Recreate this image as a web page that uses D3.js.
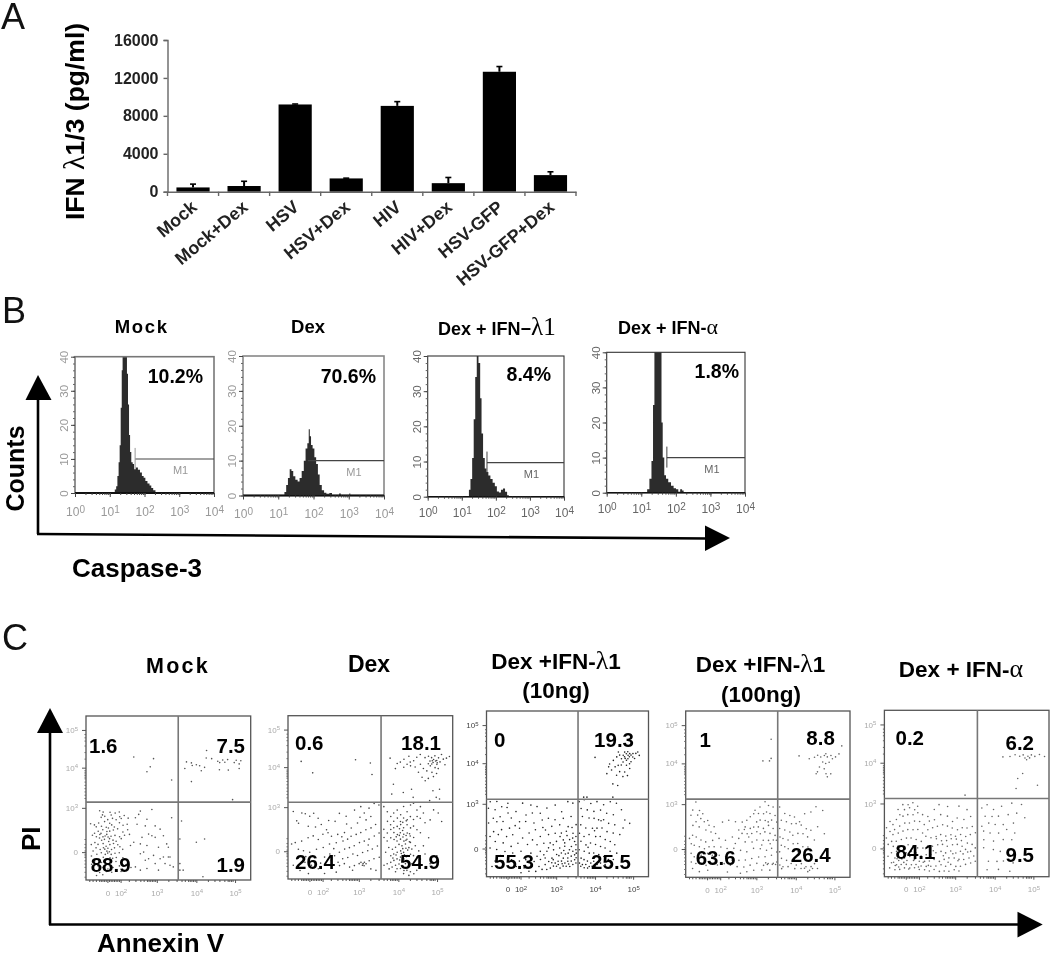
<!DOCTYPE html>
<html><head><meta charset="utf-8">
<script src="https://cdn.jsdelivr.net/npm/d3@7"></script>
<style>html,body{margin:0;padding:0;background:#fff}svg{display:block;filter:blur(0.4px)}text{font-family:"Liberation Sans",Arial,sans-serif}</style>
</head><body><div id="c"></div>
<script>
// ---------- Panel A data
const categories=["Mock","Mock+Dex","HSV","HSV+Dex","HIV","HIV+Dex","HSV-GFP","HSV-GFP+Dex"];
const meanValues=[450,600,9200,1400,9050,900,12650,1750];
const errorTops=[800,1100,9250,1430,9500,1500,13200,2100];
const barTicks=[0,4000,8000,12000,16000];
// ---------- Panel B data: [log10 intensity, counts]
const histTitles=["Mock","Dex","Dex + IFN\u2212","Dex + IFN-"];
const histPercent=["10.2%","70.6%","8.4%","1.8%"];
const histMock=[[1.12,0],[1.17,1],[1.2,2],[1.24,5],[1.27,9],[1.3,14],[1.33,25],[1.36,36],[1.38,41],[1.48,41],[1.51,35],[1.54,26],[1.57,17],[1.6,12],[1.64,9],[1.68,8.5],[1.72,7],[1.78,7.5],[1.84,6.8],[1.9,6],[1.95,5],[2,4.5],[2.05,3.5],[2.12,2.8],[2.17,2.2],[2.22,1.5],[2.28,.8],[2.35,.2],[2.38,0]];
const histDex=[[1.15,0],[1.2,1],[1.25,3],[1.3,5],[1.35,7.5],[1.4,7],[1.45,5.5],[1.52,4.5],[1.58,4],[1.63,5],[1.7,7],[1.75,10],[1.8,13.5],[1.85,15],[1.88,19],[1.91,17],[1.95,14.5],[2,13.5],[2.05,11],[2.1,9],[2.15,6],[2.2,3],[2.27,1.5],[2.33,.8],[2.4,.5],[2.5,.7],[2.55,.1],[2.7,.1],[2.75,.6],[2.8,.1],[3,.1],[3.03,.6],[3.06,.1],[3.3,0]];
const histLambda=[[1.19,0],[1.23,2],[1.28,5],[1.33,11],[1.37,22],[1.42,34],[1.46,40],[1.52,38],[1.56,28],[1.6,18],[1.65,11],[1.7,8],[1.75,7],[1.81,6],[1.87,5],[1.94,4],[2,3],[2.06,1.5],[2.12,1.2],[2.18,2],[2.24,2.3],[2.3,1.4],[2.36,.4],[2.4,0]];
const histAlpha=[[1.14,0],[1.2,1],[1.27,4],[1.32,9],[1.36,25],[1.4,41],[1.57,41],[1.6,20],[1.64,10],[1.69,5],[1.74,4],[1.82,3],[1.9,2],[1.97,1.3],[2.04,1],[2.1,.3],[2.15,1],[2.21,.6],[2.24,0]];
const histSeries=[histMock,histDex,histLambda,histAlpha];
const m1Gates=[1.73,1.84,1.74,1.74];
const m1Levels=[10,10,9.7,10];
const histDecades=[0,1,2,3,4];
const histCounts=[0,10,20,30,40];
// ---------- Panel C data: [Annexin V, PI] in percent of display range
const scatterTitles=[["Mock"],["Dex"],["Dex +IFN-","(10ng)"],["Dex +IFN-","(100ng)"],["Dex + IFN-"]];
const quadrantValues=[["1.6","7.5","88.9","1.9"],["0.6","18.1","26.4","54.9"],["0","19.3","55.3","25.5"],["1","8.8","63.6","26.4"],["0.2","6.2","84.1","9.5"]];
const scatterMock=[[29,75],[41,74],[39,69],[37,66],[52,61],[73.2,79],[61,72],[64,71.4],[60,68],[64.5,69.8],[67,70.3],[69,69.7],[72,68.7],[70,66.6],[73,74.4],[76.3,74],[80,72.4],[81.2,71.6],[83,73.2],[86,73.4],[84.3,71.8],[90,71.6],[91.2,73],[94,72.7],[93,70.8],[81,67.2],[86.4,67],[93,68],[64,60],[89,49],[58,36],[57,25],[67,23],[72,25],[57,10],[57,6],[59,6],[71,2],
[8.3,42.2],[10.4,41.4],[10,39.7],[9.2,38.2],[11.4,38.8],[14.6,41.3],[15.3,39.6],[17.7,40.8],[20.2,41.5],[16.1,37.6],[13.2,36.8],[14.4,34.6],[18.3,36.7],[20.5,38.6],[21.4,37.5],[23.2,39.3],[25.6,37.7],[11.3,35.6],[7.7,34.8],[5.1,33.6],[2.8,34.3],[6.2,32.4],[9.4,32.8],[12.3,32.2],[15.6,33.6],[17.2,32.3],[20.3,34.9],[22.5,33.4],[10.2,30.6],[12.7,29.6],[7.4,29.7],[5.2,28.5],[9.1,28.4],[14.4,29.8],[16.6,30.5],[19.2,31.2],[22.4,29.3],[25.3,30.6],[11.6,26.8],[13.4,26.2],[8.2,25.6],[6.3,26.4],[3.9,27.3],[15.2,26.7],[17.6,27.2],[20.4,26.4],[23.4,27.3],[26.4,27.8],[9.5,24.2],[11.2,24.8],[13.8,23.5],[16.4,24.3],[18.3,23.6],[21.4,25.2],[3.2,21.6],[5.4,22.8],[7.3,21.7],[10.4,22.2],[12.2,20.6],[14.5,21.6],[16.7,22.3],[19.3,21.5],[11.4,18.8],[13.3,19.4],[6.1,19.6],[8.6,18.6],[4.3,17.7],[15.5,18.6],[17.3,19.6],[20.6,20.3],[22.3,18.7],[9.3,16.6],[11.7,15.6],[13.2,16.4],[6.6,15.7],[15.3,15.6],[17.6,16.3],[3.3,14.6],[20.2,16.6],[10.5,13.8],[12.3,12.7],[14.6,13.6],[7.3,12.6],[16.2,13.2],[18.4,13.7],[5.3,11.6],[22.4,13.6],[9.4,10.7],[11.2,11.4],[13.6,9.7],[15.3,10.6],[18.2,11.3],[3.4,9.6],[7.2,8.7],[10.3,7.6],[13.3,6.7],[16.4,7.6],[20.3,8.6],[24.2,9.3],[5.4,5.7],[8.3,4.6],[12.4,5.2],[15.6,4.7],[21.3,5.2],[6.4,2.7],[10.2,3.2],[27.3,7.6],[12.6,27.8],[10.3,26.3],[14.3,25.2],[12.7,17.6],[14.2,17.2],[10.6,19.7],[8.4,27.7],[13.6,31.7],
[33,42],[40,43],[30,38],[32,40],[37,37],[25,34],[31,34],[36,33],[42,33],[52,38],[45,31],[38,28],[47,27],[34,26],[40,27],[42,26],[29,23],[33,22],[27,21],[37,21],[44,20],[49,22],[50,20],[35,17],[33,16],[41,15],[38,13],[45,13],[47,14],[50,14],[51,14],[36,12],[42,10],[48,10],[51,9],[53,8],[30,8],[33,6],[37,7],[44,6]];
const scatterDex=[[8,72],[15,65],[41,73],[50,71],[51,64],
[85.3,75.2],[87.2,74.3],[88.4,73.2],[89.2,75.4],[90.3,72.6],[91.4,74.2],[86.2,72.2],[88.1,71.3],[90.4,70.2],[92.3,71.7],[93.2,76.2],[94.3,73.4],[86.4,69.3],[89.3,68.2],[91.2,67.6],[85.2,70.6],[83.2,74.3],[80.3,76.2],[78.2,74.6],[76.3,72.4],[73.4,75.2],[74.2,71.6],[72.3,70.3],[70.4,73.3],[68.2,71.6],[66.3,70.7],[65.2,67.6],[70.3,68.4],[74.4,69.3],[77.2,68.6],[80.4,70.3],[82.2,67.7],[84.3,66.2],[87.4,65.3],[90.2,64.6],[88.3,62.7],[85.2,61.6],[83.3,60.2],[81.4,62.3],[79.2,65.4],[98,75],[95.3,70],[96.2,74],[62,74],[64,58],[63,52],[70,53],[75,55],[76,50],[88,54],[92,55],[90,50],[92,49],[86,48],[87.3,70.4],[89.6,72.3],[90.6,71.2],[87.6,72.4],
[3.2,41.3],[8.4,40.4],[5.3,35.6],[10.5,40],[13.2,38.4],[15.6,40.3],[18.3,37.2],[6.4,34.1],[12.3,32.3],[20.2,33.4],[23.4,30.2],[28.6,35.3],[31.2,40.2],[35.3,38.4],[40.4,42.2],[44.2,44.3],[46.3,40.4],[49.2,43.4],[52.3,46.2],[55.2,45.3],[47.4,36.2],[50.3,38.3],[42.2,34.3],[38.4,31.2],[34.3,28.4],[30.2,27.3],[26.4,26.2],[24.3,28.3],[21.2,27.4],[18.4,24.2],[15.3,26.4],[12.2,25.3],[8.3,23.2],[4.4,22.3],[2.2,21.4],[6.3,18.2],[9.4,17.3],[13.2,16.4],[17.3,18.2],[21.4,19.3],[25.2,21.4],[29.3,22.2],[33.4,23.3],[36.2,24.4],[38.3,26.2],[41.4,27.3],[44.2,28.4],[47.3,30.2],[50.4,31.3],[53.2,33.4],[55.3,28.2],[52.4,26.3],[49.2,24.4],[46.3,23.2],[43.4,22.3],[40.2,20.4],[37.3,19.2],[34.4,18.3],[31.2,16.4],[28.3,14.2],[25.4,15.3],[22.2,13.4],[26.3,11.2],[30.4,10.3],[33.2,12.4],[36.3,13.2],[39.4,15.3],[42.2,14.4],[45.3,16.2],[48.4,17.3],[51.2,18.4],[54.3,20.2],[55.4,13.3],[52.2,12.4],[49.3,11.2],[46.4,10.3],[43.2,9.4],[40.3,8.2],[37.4,7.3],[34.2,9.4],[31.3,8.2],[47.4,9.3],[45.2,8.4],[44.3,10.2],[46.2,8.1],[45.6,9.4],[50.3,6.2],[53.4,5.3],[39.2,5.4],[29.3,4.2],[18.4,6.3],[14.2,8.4],[10.3,10.2],[5.4,12.3],[3.2,8.4],[7.3,5.2],[12.4,3.3],[22.2,3.4],[16.7,31.8],[27.8,18.6],[35.6,33.7],[43.7,37.8],[24.7,35.8],[10.8,13.7],[19.8,9.7],[32.7,25.8],[48.7,20.8],
[58.2,44.3],[60.3,41.2],[62.4,38.3],[64.2,40.4],[66.3,42.2],[68.4,39.3],[70.2,44.4],[72.3,41.2],[74.4,45.3],[76.2,46.4],[78.3,42.2],[80.4,44.3],[82.2,40.4],[80.3,37.2],[78.4,38.3],[76.2,36.4],[74.3,38.2],[72.4,36.3],[70.2,37.4],[68.3,35.2],[66.4,37.3],[64.2,35.4],[62.3,33.2],[60.4,35.3],[58.2,30.4],[60.3,28.2],[62.4,30.3],[64.2,31.4],[66.3,32.2],[68.4,33.3],[70.2,31.4],[72.3,33.2],[74.4,31.3],[76.2,32.4],[78.3,30.2],[80.4,28.3],[83.2,34.4],[86.3,36.2],[88.4,42.3],[91.2,40.4],[93.3,35.2],[85.4,25.3],[64.3,28.4],[66.4,27.2],[68.2,28.3],[70.3,27.4],[72.4,28.2],[74.2,26.3],[76.3,25.4],[62.4,25.2],[60.2,23.3],[58.3,25.4],[64.4,24.2],[66.2,23.3],[68.3,24.4],[70.4,23.2],[72.2,24.3],[74.3,22.4],[67.4,21.2],[69.2,20.3],[71.3,21.4],[73.4,19.2],[75.2,18.3],[77.3,20.4],[79.4,17.2],[82.2,20.3],[65.3,19.4],[63.4,18.2],[61.2,19.3],[59.3,16.4],[62.4,14.2],[64.2,15.3],[66.3,16.4],[68.4,17.2],[70.2,16.3],[72.3,14.4],[74.4,15.2],[76.2,14.3],[78.3,13.4],[80.4,12.2],[83.2,15.3],[68.3,13.4],[70.4,12.2],[66.2,12.3],[64.3,11.4],[62.4,10.2],[60.2,9.3],[58.3,8.4],[61.4,6.2],[63.2,7.3],[65.3,8.4],[67.4,9.2],[69.2,8.3],[71.3,9.4],[73.4,10.2],[75.2,9.3],[77.3,8.4],[79.4,9.2],[66.2,6.3],[68.3,6.4],[70.4,5.2],[72.2,5.3],[74.3,4.4],[76.4,3.2],[70.2,3.3],[65.3,4.4],[73.4,2.2],[78.2,5.3],[86.3,9.4],[90.4,14.2],[69.7,34.7],[71.8,35.6],[67.7,30.8],[69.6,29.7],[71.7,26.6],[73.8,27.7],[67.6,26.7],[65.7,25.8],[69.8,25.7],[71.6,23.7],[73.7,22.8],[69.7,18.6],[71.6,18.8],[72.7,17.7],[68.8,15.6],[70.7,14.8],[71.8,13.7],[65.6,14.7],[63.7,12.8],[67.8,11.6]];
const scatterL10=[[67,72],[76,68],[78.3,70.2],[80.4,72.3],[82.2,73.4],[83.3,71.2],[84.4,73.3],[85.2,72.4],[86.3,74.2],[87.4,73.3],[88.2,72.4],[87.3,71.2],[86.4,70.3],[85.6,71.4],[84.3,69.2],[88.4,74.3],[89.2,73.4],[90.3,72.2],[91.4,71.3],[89.2,69.4],[88.3,68.2],[86.4,67.3],[83.2,67.4],[81.3,67.2],[79.4,66.3],[77.2,64.4],[74.3,62.2],[75.4,66.3],[82.2,63.4],[85.3,63.2],[88.4,65.3],[84.2,60.4],[80.3,61.2],[81,55],[87,61],[78,56],[90.4,74.3],[92.2,74.4],[94.3,73.2],[93.4,75.3],[87.2,75.4],[85.3,75.2],[81.4,75.3],[62,48],[78,48],[60,48],
[2.3,45.2],[6.4,45.4],[1.2,41.3],[5.3,40.4],[9.4,42.2],[13.2,44.3],[22.3,44.4],[27.4,43.2],[31.2,42.3],[37.3,41.4],[42.4,43.2],[50.2,45.3],[53.3,44.4],[46.4,39.2],[33.2,38.3],[28.3,38.4],[24.4,37.2],[18.2,39.3],[13.3,38.4],[8.4,36.2],[4.2,35.3],[1.3,32.4],[6.4,33.2],[10.2,33.3],[15.3,35.4],[20.4,33.2],[24.2,33.3],[29.3,32.4],[34.4,34.2],[38.2,35.3],[42.3,34.4],[47.4,35.2],[52.2,36.3],[55.3,31.4],[50.4,30.2],[45.2,31.3],[40.3,30.4],[36.4,28.2],[30.2,28.3],[26.3,26.4],[20.4,29.2],[14.2,29.3],[9.3,28.4],[4.4,27.2],[2.2,24.3],[7.3,25.4],[12.4,24.2],[16.2,25.3],[22.3,23.4],[28.4,22.2],[33.2,24.3],[38.3,25.4],[42.4,26.2],[46.2,26.3],[49.3,27.4],[53.4,26.2],[55.2,24.3],[51.3,22.4],[47.4,22.2],[43.2,21.3],[39.3,20.4],[35.4,20.2],[31.2,19.3],[25.3,19.4],[19.4,20.2],[15.2,18.3],[10.3,20.4],[5.4,21.2],[2.2,17.3],[6.3,16.4],[11.4,15.2],[16.2,14.3],[21.3,15.4],[27.4,14.2],[33.2,15.3],[37.3,15.4],[41.4,16.2],[45.2,17.3],[48.3,18.4],[52.4,18.2],[55.2,19.3],[53.3,15.4],[50.4,14.2],[46.2,14.3],[43.3,13.4],[40.4,11.2],[36.2,11.3],[33.3,10.4],[29.4,9.2],[24.2,10.3],[20.3,9.4],[15.4,10.2],[10.2,9.3],[5.3,9.4],[3.4,6.2],[8.2,5.3],[13.3,6.4],[18.4,6.2],[23.2,5.3],[28.3,6.4],[32.4,6.2],[36.2,7.3],[40.3,8.4],[42.4,8.2],[44.2,9.3],[46.3,9.4],[48.4,8.2],[50.2,9.3],[52.3,9.4],[54.4,10.2],[55.2,8.3],[53.3,7.4],[51.4,6.2],[49.2,6.3],[47.3,6.4],[45.4,5.2],[43.2,6.3],[41.3,6.4],[39.4,5.2],[37.2,4.3],[34.3,4.4],[30.4,3.2],[26.2,3.3],[21.3,2.4],[38.4,9.2],[41.2,10.3],[44.3,7.4],[47.4,11.2],[50.2,11.3],[52.3,12.4],[54.4,13.2],[51.2,16.3],[48.3,20.4],[45.4,24.2],[41.2,19.3],[38.3,17.4],[35.4,13.2],[31.2,12.3],[27.3,11.4],[55.4,14.2],[55.2,16.3],[55.3,11.4],[54.4,21.2],[53.2,23.3],[48.7,13.7],[50.7,7.7],[46.7,7.8],[47.7,15.8],[44.7,12.7],[49.7,24.8],[52.8,29.7],[8.7,12.7],[17.7,30.8],[12.7,41.8],[34.8,29.7],
[57.2,45.3],[60.3,46.4],[64.4,44.2],[68.2,45.3],[72.3,43.4],[76.4,45.2],[80.2,44.3],[83.3,40.4],[58.4,41.2],[62.2,40.3],[66.3,39.4],[70.4,40.2],[74.2,38.3],[78.3,37.4],[85.4,34.2],[59.2,36.3],[63.3,35.4],[66.4,35.2],[69.2,34.3],[72.3,34.4],[75.4,32.2],[79.2,31.3],[84.3,29.4],[88.4,32.2],[58.2,31.3],[61.3,29.4],[65.4,29.2],[68.2,29.3],[71.3,29.4],[74.4,27.2],[78.2,26.3],[82.3,25.4],[57.4,26.2],[60.2,24.3],[63.3,25.4],[67.4,24.2],[70.2,24.3],[73.3,22.4],[76.4,21.2],[79.2,19.3],[58.3,21.4],[61.4,19.2],[64.2,20.3],[67.3,19.4],[70.4,18.2],[73.2,17.3],[76.3,15.4],[80.4,14.2],[57.2,16.3],[60.3,15.4],[63.4,14.2],[66.2,14.3],[69.3,13.4],[72.4,12.2],[75.2,10.3],[78.3,10.4],[58.4,11.2],[60.2,10.3],[62.3,9.4],[64.4,8.2],[66.2,9.3],[68.3,7.4],[70.4,8.2],[73.2,7.3],[76.3,6.4],[57.4,8.2],[59.2,7.3],[61.3,7.4],[63.4,6.2],[65.2,6.3],[67.3,6.4],[69.4,5.2],[58.2,6.3],[60.3,5.4],[62.4,5.2],[66.7,27.7],[70.7,33.8],[62.7,17.7]];
const scatterL100=[[52,83],[47,70],[51,70],[52,71.5],
[69,73],[75.2,71.3],[78.4,72.2],[80.3,73.4],[82.2,72.3],[84.4,73.2],[85.3,74.3],[86.2,72.4],[88.4,73.2],[89.3,71.3],[91.2,72.4],[93.3,74.2],[83.4,69.3],[85.2,68.4],[87.3,69.2],[79.4,62.3],[80.2,63.4],[84.3,65.2],[85.4,62.3],[86.2,60.4],[88.3,62.2],[81.4,66.3],[95,79],
[6.2,45.3],[4.3,40.4],[8.4,40.2],[3.2,37.3],[7.3,37.4],[10.4,38.2],[9.2,35.3],[6.3,33.4],[4.4,31.2],[8.2,30.3],[11.3,33.4],[13.4,34.2],[14.2,31.3],[12.3,28.4],[15.4,27.2],[18.2,26.3],[17.3,30.4],[22.4,33.2],[26.2,34.3],[30.3,33.4],[34.4,33.2],[37.2,34.3],[39.3,36.4],[41.4,38.2],[45.2,42.3],[48.3,45.4],[50.4,43.2],[53.2,42.3],[44.3,38.4],[47.4,38.2],[49.2,39.3],[51.3,38.4],[54.4,37.2],[43.2,33.3],[45.3,34.4],[48.4,34.2],[50.2,33.3],[52.3,34.4],[55.4,33.2],[36.2,30.3],[39.3,29.4],[41.4,30.2],[44.2,30.3],[47.3,29.4],[50.4,31.2],[53.2,29.3],[34.3,26.4],[37.4,26.2],[40.2,26.3],[43.3,27.4],[45.4,26.2],[48.2,27.3],[51.3,26.4],[54.4,25.2],[55.2,22.3],[53.3,22.4],[50.4,22.2],[47.2,22.3],[43.3,22.4],[40.4,21.2],[36.2,21.3],[32.3,23.4],[28.4,24.2],[24.2,22.3],[20.3,23.4],[16.4,22.2],[12.2,21.3],[9.3,22.4],[6.4,24.2],[4.2,25.3],[2.3,23.4],[3.4,20.2],[5.2,19.3],[8.3,18.4],[11.4,17.2],[14.2,18.3],[17.3,18.4],[21.4,18.2],[25.2,17.3],[29.3,17.4],[33.4,16.2],[37.2,15.3],[41.3,17.4],[45.4,17.2],[49.2,16.3],[52.3,17.4],[55.4,15.2],[52.2,13.3],[48.3,12.4],[44.4,12.2],[40.2,11.3],[36.3,10.4],[32.4,10.2],[28.2,10.3],[24.3,12.4],[20.4,13.2],[16.2,13.3],[13.3,14.4],[9.4,13.2],[5.2,12.3],[3.3,14.4],[3.4,9.2],[6.2,8.3],[9.3,8.4],[12.4,7.2],[15.2,8.3],[19.3,7.4],[23.4,8.2],[27.2,7.3],[31.3,6.4],[35.4,6.2],[39.2,7.3],[43.3,8.4],[47.4,7.2],[50.2,8.3],[53.3,8.4],[55.4,9.2],[51.2,4.3],[46.3,4.4],[41.4,4.2],[37.2,3.3],[33.3,2.4],[25.4,3.2],[4.2,5.3],[8.3,3.4],[13.4,4.2],[42.2,40.3],[32.3,28.4],[38.4,24.2],[30.2,20.3],[46.3,19.4],[51.4,20.2],[48.7,8.7],[49.7,7.7],[52.7,7.8],[54.7,7.7],[35.7,28.7],
[57.2,42.3],[60.3,38.4],[63.4,37.2],[66.2,36.3],[69.3,33.4],[72.4,38.2],[76.2,39.3],[79.3,42.4],[83.4,40.2],[58.2,34.3],[61.3,33.4],[64.4,32.2],[67.2,32.3],[70.3,31.4],[73.4,29.2],[76.2,28.3],[80.3,30.4],[84.4,26.2],[57.2,29.3],[60.3,28.4],[63.4,27.2],[65.2,25.3],[68.3,26.4],[71.4,26.2],[74.2,24.3],[78.3,22.4],[57.4,24.2],[59.2,23.3],[62.3,22.4],[65.4,20.2],[68.2,20.3],[71.3,18.4],[74.4,18.2],[58.2,19.3],[60.3,18.4],[62.4,17.2],[65.2,15.3],[68.3,15.4],[72.4,13.2],[57.2,15.3],[58.3,11.4],[61.4,10.2],[64.2,8.3],[67.3,7.4],[70.4,8.2],[73.2,6.3],[76.3,6.4],[78.4,8.2],[80.2,5.3],[57.3,7.4],[58.4,5.2],[59.2,6.3],[62.3,6.4],[75.4,4.2],[70.2,5.3],[72.3,5.4],[66.4,5.2],[77.2,5.3],[74.3,3.4]];
const scatterA=[[49,49],[72,72],[76.3,72.2],[79.4,73.3],[82.2,72.4],[84.3,73.2],[85.4,71.3],[87.2,72.4],[89.3,73.2],[91.4,72.3],[94.2,73.4],[97.3,72.2],[86.4,70.3],[88.2,71.4],[84,62],[80,53],[93,55],[81,59],
[8.3,40.4],[11.2,43.3],[14.4,43.2],[17.3,44.4],[20.2,42.3],[18.4,40.2],[15.3,41.4],[12.2,40.3],[9.4,37.2],[7.3,34.4],[5.2,31.3],[3.4,33.2],[11.3,36.4],[14.2,37.3],[17.4,37.2],[20.3,38.4],[23.2,37.3],[26.4,36.2],[30.3,40.4],[33.2,43.3],[38.4,42.2],[45.3,42.4],[50.2,40.3],[52.4,36.2],[48.3,34.4],[44.2,35.3],[41.4,33.2],[38.3,36.4],[34.2,37.3],[30.4,34.2],[27.3,33.4],[24.2,31.3],[21.4,33.2],[18.3,33.4],[15.2,32.3],[12.4,32.2],[9.3,30.4],[6.2,28.3],[3.4,27.2],[1.3,29.4],[5.2,25.3],[8.4,26.2],[11.3,27.4],[14.2,28.3],[17.4,28.2],[20.3,28.4],[23.2,26.3],[26.4,28.2],[29.3,29.4],[32.2,30.3],[35.4,31.2],[38.3,30.4],[41.2,29.3],[44.4,28.2],[47.3,29.4],[50.2,29.3],[53.4,30.2],[55.3,26.4],[52.2,25.3],[49.4,24.2],[46.3,25.4],[43.2,24.3],[40.4,25.2],[37.3,24.4],[34.2,25.3],[31.4,24.2],[28.3,23.4],[25.2,24.3],[22.4,21.2],[19.3,22.4],[16.2,23.3],[13.4,23.2],[10.3,22.4],[7.2,21.3],[4.4,21.2],[2.3,19.4],[1.2,23.3],[5.4,18.2],[8.3,18.4],[11.2,18.3],[14.4,19.2],[17.3,18.4],[20.2,17.3],[23.4,17.2],[26.3,18.4],[29.2,18.3],[32.4,19.2],[35.3,19.4],[38.2,18.3],[41.4,19.2],[44.3,19.4],[47.2,18.3],[50.4,20.2],[53.3,19.4],[55.2,17.3],[52.4,15.2],[49.3,16.4],[46.2,15.3],[43.4,14.2],[40.3,15.4],[37.2,14.3],[34.4,15.2],[31.3,14.4],[28.2,13.3],[25.4,13.2],[22.3,12.4],[19.2,14.3],[16.4,15.2],[13.3,14.4],[10.2,15.3],[7.4,15.2],[4.3,14.4],[2.2,12.3],[6.4,11.2],[9.3,11.4],[12.2,11.3],[15.4,12.2],[18.3,10.4],[21.2,9.3],[24.4,9.2],[27.3,9.4],[30.2,10.3],[33.4,9.2],[36.3,10.4],[39.2,11.3],[42.4,11.2],[45.3,10.4],[48.2,10.3],[51.4,11.2],[54.3,12.4],[55.2,9.3],[52.4,8.2],[49.3,7.4],[46.2,6.3],[43.4,6.2],[40.3,7.4],[37.2,6.3],[34.4,7.2],[31.3,6.4],[28.2,6.3],[25.4,6.2],[22.3,6.4],[19.2,7.3],[16.4,7.2],[13.3,7.4],[10.2,7.3],[7.4,7.2],[4.3,8.4],[3.2,5.3],[6.4,4.2],[9.3,4.4],[12.2,5.3],[15.4,5.2],[18.3,5.4],[21.2,4.3],[24.4,4.2],[27.3,3.4],[30.2,4.3],[33.4,3.2],[36.3,3.4],[39.2,3.3],[42.4,4.2],[45.3,3.4],[8.7,9.7],[10.6,10.7],[7.7,10.8],[6.6,6.7],[8.7,5.8],[11.8,8.6],[13.7,9.7],[14.8,4.6],[17.7,9.8],[5.6,8.7],[20.7,5.8],[23.6,8.7],[26.7,6.8],[35.8,12.6],[38.7,8.7],[41.6,13.8],[44.7,9.6],[47.8,13.7],[50.6,14.8],[34.7,21.6],[37.8,21.7],[40.6,22.8],[43.7,22.6],[46.8,21.7],[31.6,22.8],[29.7,15.6],
[59.2,41.3],[62.4,43.2],[66.3,40.4],[71.2,42.3],[77.4,44.2],[83.3,43.4],[61.2,36.3],[65.4,36.2],[69.3,36.4],[75.2,37.3],[80.4,38.2],[85.3,35.4],[59.2,30.3],[63.4,32.2],[67.3,31.4],[72.2,31.3],[78.4,32.2],[60.3,27.4],[64.2,26.3],[69.4,26.2],[74.3,28.4],[79.2,26.3],[60.4,22.2],[66.3,21.4],[72.2,22.3],[77.4,22.2],[60.3,17.4],[66.2,16.3],[70.4,15.2],[75.3,16.4],[63.2,9.3],[68.4,9.2],[72.3,9.4],[78.2,8.3],[62.4,4.2],[69.3,4.4],[76.2,3.3]];
const scatterSeries=[scatterMock,scatterDex,scatterL10,scatterL100,scatterA];
const gateX=[56,56.5,56.5,56,56.5];
const gateY=[47.5,47,46.7,47,47];
const scatterXTicks=[13,21,43,67,90.5];
const scatterXLabels=["0","2","3","4","5"];
const scatterYTicks=[17,44,68.5,91.5];
const scatterYLabels=["0","3","4","5"];
const scatterMinor=[2,4,6,8,9,10,11,12,14,15,16,17,18,19,20,26,30,33,35,37,38,39,40,41,42,50,55,58,60,62,63,64,65,66,74,78,81,84,86,87,88,89];

// ---------- Layout
const W=1050,H=954;
const svg=d3.select("#c").append("svg").attr("width",W).attr("height",H).attr("viewBox",`0 0 ${W} ${H}`);
const LAMBDA="\u03bb",ALPHA="\u03b1",SERIF='"Liberation Serif",serif';
const bold=(g,x,y,size,anchor="start",fill="#000")=>g.append("text").attr("x",x).attr("y",y).attr("font-size",size).attr("font-weight","bold").attr("text-anchor",anchor).attr("fill",fill);
function greek(t,ch,after,size){const s=t.append("tspan").attr("font-family",SERIF).attr("font-weight","normal").text(ch);if(size)s.attr("font-size",size);if(after)t.append("tspan").text(after);}
function arrow(p1,p2,tip){svg.append("path").attr("d",d3.line()([p1,p2])).attr("stroke","#000").attr("stroke-width",2.6).attr("fill","none");
 svg.append("path").attr("d",d3.line()(tip)+"Z").attr("fill","#000");}
[["A",1,29,36],["B",2,323,36],["C",2,650,36]].forEach(d=>svg.append("text").attr("x",d[1]).attr("y",d[2]).attr("font-size",d[3]).attr("fill","#111").text(d[0]));

// ---------- Panel A
{
 const x=d3.scaleBand().domain(categories).range([167.5,576]).paddingInner(0.35).paddingOuter(0.175);
 const xOuter=d3.scaleBand().domain(categories).range([167.5,576]);
 const y=d3.scaleLinear().domain([0,16000]).range([191.7,40]);
 const g=svg.append("g");
 categories.forEach((c,i)=>{
  g.append("line").attr("x1",x(c)+x.bandwidth()/2).attr("x2",x(c)+x.bandwidth()/2).attr("y1",y(meanValues[i])).attr("y2",y(errorTops[i])).attr("stroke","#000").attr("stroke-width",2);
  g.append("line").attr("x1",x(c)+x.bandwidth()/2-3).attr("x2",x(c)+x.bandwidth()/2+3).attr("y1",y(errorTops[i])).attr("y2",y(errorTops[i])).attr("stroke","#000").attr("stroke-width",1.6);
  g.append("rect").attr("x",x(c)).attr("y",y(meanValues[i])).attr("width",x.bandwidth()).attr("height",y(0)-y(meanValues[i])).attr("fill","#000");
 });
 const ay=g.append("g").attr("transform","translate(167.5,0)").call(d3.axisLeft(y).tickValues(barTicks).tickSize(4).tickPadding(5).tickFormat(d=>d));
 ay.selectAll("text").attr("font-size",16).attr("font-weight","bold").attr("fill","#222").style("font-family",'"Liberation Sans",Arial,sans-serif');
 ay.selectAll("path,line").attr("stroke","#666").attr("stroke-width",1.4);
 const ax=g.append("g").attr("transform","translate(0,191.7)").call(d3.axisBottom(xOuter).tickSize(0).tickFormat(""));
 ax.selectAll("path").attr("stroke","#666").attr("stroke-width",1.4);
 categories.concat("end").forEach((c,i)=>g.append("line").attr("x1",167.5+i*xOuter.step()).attr("x2",167.5+i*xOuter.step()).attr("y1",191.7).attr("y2",196).attr("stroke","#666").attr("stroke-width",1.4));
 categories.forEach(c=>{
  const cx=xOuter(c)+xOuter.bandwidth()/2+5;
  g.append("text").attr("transform",`translate(${cx},209) rotate(-40)`).attr("text-anchor","end").attr("font-size",17.8).attr("font-weight","bold").attr("fill","#222").text(c);
 });
 const t=g.append("text").attr("transform","translate(84,220) rotate(-90)").attr("font-size",26.5).attr("font-weight","bold").attr("fill","#000");
 t.append("tspan").text("IFN ");greek(t,LAMBDA,"1/3 (pg/ml)",30);
}

// ---------- Panel B
{
 const frames=[{x0:75,x1:214,y0:493,y1:356.7,c:"#777"},{x0:243,x1:384,y0:495.5,y1:356,c:"#888"},{x0:427.7,x1:564,y0:496.7,y1:356,c:"#333"},{x0:606.7,x1:745,y0:492.7,y1:352.3,c:"#333"}];
 const titleAt=[[141.7,333,"middle"],[308,333,"middle"],[438,335,"start"],[618,334,"start"]];
 const pctAt=[[203,383],[376,383],[551,381],[739,378]];
 const logMinor=d3.range(0,4).flatMap(k=>d3.range(1,10).map(m=>m*Math.pow(10,k))).concat([1e4]);
 frames.forEach((f,i)=>{
  const g=svg.append("g");
  const x=d3.scaleLog().domain([1,1e4]).range([f.x0,f.x1]);
  const y=d3.scaleLinear().domain([0,40]).range([f.y0,f.y1]);
  const area=d3.area().x(d=>x(Math.pow(10,d[0]))).y0(f.y0).y1(d=>Math.max(y(d[1]),f.y1)).curve(d3.curveStep);
  g.append("path").attr("d",area(histSeries[i])).attr("fill","#2c2c2c");
  g.append("rect").attr("x",f.x0).attr("y",f.y1).attr("width",f.x1-f.x0).attr("height",f.y0-f.y1).attr("fill","none").attr("stroke",f.c).attr("stroke-width",i<2?1.6:1.1);
  g.append("line").attr("x1",f.x0).attr("x2",f.x1).attr("y1",f.y0).attr("y2",f.y0).attr("stroke","#111").attr("stroke-width",i<2?2:1.5);
  const labelFill=i<2?"#999":"#666";
  const ax1=g.append("g").attr("transform",`translate(0,${f.y0})`).call(d3.axisBottom(x).tickValues(logMinor).tickSize(2).tickFormat(""));
  ax1.select(".domain").remove();ax1.selectAll("line").attr("stroke","#444");
  const ax2=g.append("g").attr("transform",`translate(0,${f.y0})`).call(d3.axisBottom(x).tickValues(histDecades.map(d=>Math.pow(10,d))).tickSize(4).tickPadding(i<2?10:8).tickFormat(()=>"10"));
  ax2.select(".domain").remove();ax2.selectAll("line").attr("stroke","#444");
  ax2.selectAll("text").attr("font-size",12).attr("fill",labelFill).style("font-family",'"Liberation Sans",Arial,sans-serif').each(function(d){
   d3.select(this).append("tspan").attr("dy",-3).attr("font-size",10).text(Math.round(Math.log10(d)));});
  const ay1=g.append("g").attr("transform",`translate(${f.x0},0)`).call(d3.axisLeft(y).tickValues(d3.range(0,41,2)).tickSize(2).tickFormat(""));
  ay1.select(".domain").remove();ay1.selectAll("line").attr("stroke","#666");
  const ay2=g.append("g").attr("transform",`translate(${f.x0},0)`).call(d3.axisLeft(y).tickValues(histCounts).tickSize(4).tickFormat(d=>d));
  ay2.select(".domain").remove();ay2.selectAll("line").attr("stroke","#444");
  ay2.selectAll("text").attr("font-size",11.5).attr("fill",labelFill).attr("transform","rotate(-90)").attr("text-anchor","middle").attr("x",0).attr("dy",0).attr("y",-7).style("font-family",'"Liberation Sans",Arial,sans-serif');
  const mx=x(Math.pow(10,m1Gates[i])),my=y(m1Levels[i]);
  g.append("line").attr("x1",mx).attr("x2",f.x1).attr("y1",my).attr("y2",my).attr("stroke","#444").attr("stroke-width",1.1);
  if(i!=1)g.append("line").attr("x1",mx).attr("x2",mx).attr("y1",my-11).attr("y2",my+10).attr("stroke",i<2?"#999":"#444").attr("stroke-width",1);
  g.append("text").attr("x",(mx+f.x1)/2+(i==1?8:6)).attr("y",my+15).attr("text-anchor","middle").attr("font-size",11).attr("fill",i<2?"#999":"#666").text("M1");
  const a=titleAt[i];
  const t=bold(g,a[0],a[1],i<2?18.5:18,a[2]);
  if(i<1)t.attr("letter-spacing",1.6);
  t.append("tspan").text(histTitles[i]);
  if(i==2)greek(t,LAMBDA+"1",null,25);
  if(i==3)greek(t,ALPHA,null,22);
  bold(g,pctAt[i][0],pctAt[i][1],19.5,"end").text(histPercent[i]);
 });
 arrow([38,534],[38,395],[[38,375],[25.5,400],[51.5,400]]);
 arrow([37,534],[708,538.5],[[730,538],[705,525.5],[705,551]]);
 bold(svg,24,511.5,25).attr("transform","rotate(-90 24 511.5)").text("Counts");
 bold(svg,72,577,26).text("Caspase-3");
}

// ---------- Panel C
{
 const frames=[{x0:86,x1:250.7,y0:880,y1:716},{x0:288,x1:452.7,y0:879,y1:715.7},{x0:486.5,x1:648.5,y0:876.7,y1:711},{x0:685.7,x1:850,y0:877.3,y1:711},{x0:884.4,x1:1049,y0:876.7,y1:710.3}];
 const titleAt=[[[178,673]],[[369,672]],[[556,669],[556,698]],[[760.5,672],[761,702]],[[961,677]]];
 const quadAt=[[[89,752.7],[245,752.7],[90.7,871.7],[245,871.7]],[[295,750],[441,750],[295,869],[440,869]],[[494,747],[634,747],[494,869],[631,869]],[[699.4,747],[834.8,745],[695.7,865],[830.7,862]],[[895.5,745],[1034,750],[895.5,859],[1034,862]]];
 const dotFill=["#555","#444","#222","#666","#666"];
 frames.forEach((f,i)=>{
  const g=svg.append("g");
  const x=d3.scaleLinear().domain([0,100]).range([f.x0,f.x1]);
  const y=d3.scaleLinear().domain([0,100]).range([f.y0,f.y1]);
  g.selectAll("circle").data(scatterSeries[i]).join("circle").attr("cx",d=>x(d[0])).attr("cy",d=>y(d[1])).attr("r",0.8).attr("fill",dotFill[i]);
  g.append("rect").attr("x",f.x0).attr("y",f.y1).attr("width",f.x1-f.x0).attr("height",f.y0-f.y1).attr("fill","none").attr("stroke","#555").attr("stroke-width",1.3);
  g.append("line").attr("x1",x(gateX[i])).attr("x2",x(gateX[i])).attr("y1",f.y1).attr("y2",f.y0).attr("stroke","#777").attr("stroke-width",1.6);
  g.append("line").attr("x1",f.x0).attr("x2",f.x1).attr("y1",y(gateY[i])).attr("y2",y(gateY[i])).attr("stroke","#777").attr("stroke-width",1.6);
  const labelFill=i==2?"#444":"#aaa";
  const am=g.append("g").attr("transform",`translate(0,${f.y0})`).call(d3.axisBottom(x).tickValues(scatterMinor).tickSize(2).tickFormat(""));
  am.select(".domain").remove();am.selectAll("line").attr("stroke","#555");
  const ax=g.append("g").attr("transform",`translate(0,${f.y0})`).call(d3.axisBottom(x).tickValues(scatterXTicks).tickSize(3).tickPadding(7).tickFormat((d,k)=>k?"10":"0"));
  ax.select(".domain").remove();ax.selectAll("line").attr("stroke","#555");
  ax.selectAll("text").attr("font-size",8).attr("fill",labelFill).style("font-family",'"Liberation Sans",Arial,sans-serif').each(function(d,k){
   if(k)d3.select(this).append("tspan").attr("dy",-2.5).attr("font-size",6).text(scatterXLabels[k]);});
  const ay=g.append("g").attr("transform",`translate(${f.x0},0)`).call(d3.axisLeft(y).tickValues(scatterYTicks).tickSize(4).tickPadding(4).tickFormat((d,k)=>k?"10":"0"));
  ay.select(".domain").remove();ay.selectAll("line").attr("stroke","#555");
  ay.selectAll("text").attr("font-size",8).attr("fill",labelFill).style("font-family",'"Liberation Sans",Arial,sans-serif').each(function(d,k){
   if(k)d3.select(this).append("tspan").attr("dy",-2.5).attr("font-size",6).text(scatterYLabels[k]);});
  const am2=g.append("g").attr("transform",`translate(${f.x0},0)`).call(d3.axisLeft(y).tickValues([2,5,8,10,12,14,15,16,18,20,22,25,50,52,54,56,58,60,62,63,64,65,66,67,74,78,82,85,87,89]).tickSize(1.5).tickFormat(""));
  am2.select(".domain").remove();am2.selectAll("line").attr("stroke","#666");
  scatterTitles[i].forEach((line,k)=>{
   const a=titleAt[i][k];
   const t=bold(g,a[0],a[1],i==0?21.5:(i==1?23:(k==1?22.5:22.5)),"middle");
   if(i==0)t.attr("letter-spacing",2.2);
   t.append("tspan").text(line);
   if(k==0&&(i==2||i==3))greek(t,LAMBDA,"1",26);
   if(i==4)greek(t,ALPHA,null,26);
  });
  quadrantValues[i].forEach((v,k)=>bold(g,quadAt[i][k][0],quadAt[i][k][1],20.5,k%2?"end":"start").text(v));
 });
 arrow([50,925],[50,728],[[50,708],[37,733],[63,733]]);
 arrow([49,924.5],[1020,924.5],[[1042.7,924.5],[1017.5,911.7],[1017.5,937.5]]);
 bold(svg,40,851,26).attr("transform","rotate(-90 40 851)").text("PI");
 bold(svg,97,952,26).text("Annexin V");
}
</script></body></html>
